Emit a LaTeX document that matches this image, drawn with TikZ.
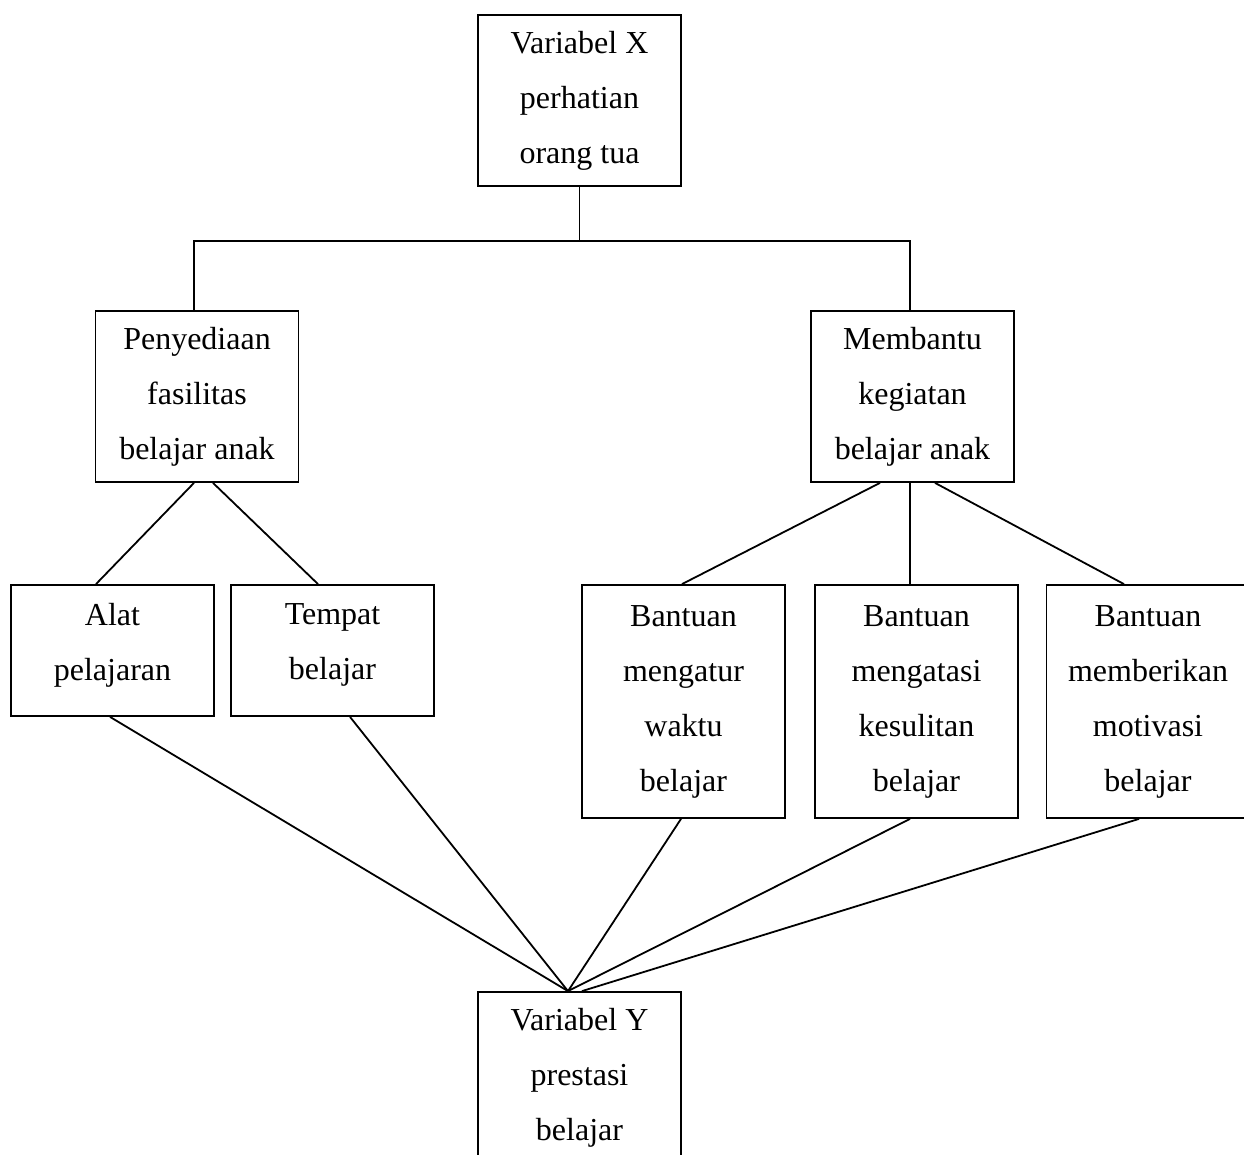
\documentclass[tikz,border=0pt]{standalone}
\usepackage{fontspec}
\setmainfont{Liberation Serif}
\usepackage{tikz}
\usetikzlibrary{calc}

\begin{document}
\begin{tikzpicture}[x=0.5pt,y=-0.5pt,line width=0.9pt,
    kotak/.style={draw,align=center,inner sep=0pt,minimum width=101.5pt,font=\fontsize{16}{27.5}\selectfont}]

            % Frame of the picture
            \useasboundingbox (0,0) rectangle (1244,1155);

            % Top and second level
            \node (varx) [kotak,minimum height=85.5pt] at (579.5,100.5) {Variabel X\\perhatian\\orang tua};
            \node (fasilitas) [kotak,minimum height=85.5pt] at (197,396.5) {Penyediaan\\fasilitas\\belajar anak};
            \node (kegiatan) [kotak,minimum height=85.5pt] at (912.5,396.5) {Membantu\\kegiatan\\belajar anak};

            % Indicators
            \node (alat) [kotak,minimum height=65.5pt,text depth=8.5pt] at (112.5,650.5) {Alat\\pelajaran};
            \node (tempat) [kotak,minimum height=65.5pt,text depth=8.5pt] at (332.5,650.5) {Tempat\\belajar};
            \node (waktu) [kotak,minimum height=116.5pt] at (683.5,701.5) {Bantuan\\mengatur\\waktu\\belajar};
            \node (kesulitan) [kotak,minimum height=116.5pt] at (916.5,701.5) {Bantuan\\mengatasi\\kesulitan\\belajar};
            \node (motivasi) [kotak,minimum height=116.5pt] at (1148,701.5) {Bantuan\\memberikan\\motivasi\\belajar};

            % Bottom
            \node (vary) [kotak,minimum height=85.5pt] at (579.5,1077.5) {Variabel Y\\prestasi\\belajar};

            \coordinate (cabang) at (579.5,241);
            \draw (varx.south) -- (cabang);
            \draw ([xshift=-1.5pt]fasilitas.north) |- (cabang) -| ([xshift=-1.25pt]kegiatan.north);

            \draw ([xshift=-1.5pt]fasilitas.south) -- ([xshift=-8.25pt]alat.north);
            \draw ([xshift=8pt]fasilitas.south) -- ([xshift=-7.25pt]tempat.north);

            \draw ([xshift=-16.25pt]kegiatan.south) -- ([xshift=-0.75pt]waktu.north);
            \draw ([xshift=-1.25pt]kegiatan.south) -- ([xshift=-3.25pt]kesulitan.north);
            \draw ([xshift=11.25pt]kegiatan.south) -- ([xshift=-12pt]motivasi.north);

            \draw ([xshift=-1.25pt]alat.south) -- ([xshift=-5.75pt]vary.north);
            \draw ([xshift=8.75pt]tempat.south) -- ([xshift=-5.75pt]vary.north);
            \draw ([xshift=-1.25pt]waktu.south) -- ([xshift=-5.75pt]vary.north);
            \draw ([xshift=-3.25pt]kesulitan.south) -- ([xshift=-5.75pt]vary.north);
            \draw ([xshift=-4.5pt]motivasi.south) -- ([xshift=1.25pt]vary.north);

            \end{tikzpicture}
\end{document}
